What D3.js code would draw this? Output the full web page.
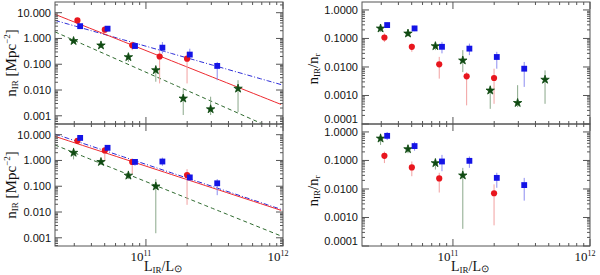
<!DOCTYPE html>
<html>
<head>
<meta charset="utf-8">
<script src="https://cdn.jsdelivr.net/npm/d3@7"></script>
<style>
  body { margin: 0; background: #fff; }
  svg { display: block; }
  .tick-label { font-family: "Liberation Sans", Arial, sans-serif; font-size: 11px; fill: #111; }
  .title { font-family: "Liberation Serif", "Times New Roman", serif; font-size: 15px; fill: #111; }
</style>
</head>
<body>
<div id="chart"></div>
<script>
// luminosity bins (log10 L_IR/L_sun) and small horizontal offsets per sample
const binLogL = [10.5, 10.7, 10.9, 11.1, 11.3, 11.5, 11.7];
const offRed = 0.0, offBlue = 0.02, offGreen = -0.028;

// top-left: n_IR [Mpc^-2]
const tlRed      = [5.0, 2.2, 0.54, 0.20, 0.165, null, null];
const tlRedLo    = [4.3, 1.54, 0.35, 0.018, 0.018, null, null];
const tlRedHi    = [5.8, 2.8, 0.73, 0.35, 0.30, null, null];
const tlBlue     = [3.0, 2.4, 0.51, 0.44, 0.237, 0.086, null];
const tlBlueLo   = [2.5, 2.0, 0.40, 0.26, 0.143, 0.024, null];
const tlBlueHi   = [3.6, 2.9, 0.65, 0.73, 0.40, 0.123, null];
const tlGreen    = [0.80, 0.54, 0.19, 0.059, 0.0047, 0.0018, 0.0114];
const tlGreenLo  = [0.65, 0.45, 0.123, 0.021, 0.00107, 0.00107, 0.0014];
const tlGreenHi  = [0.95, 0.65, 0.26, 0.091, 0.0114, 0.0055, 0.024];

// bottom-left: n_IR [Mpc^-2]
const blRed      = [5.8, 2.45, 0.88, null, 0.27, null, null];
const blRedLo    = [4.3, 0.96, 0.30, null, 0.019, null, null];
const blRedHi    = [7.0, 2.7, 1.1, null, 0.46, null, null];
const blBlue     = [7.5, 3.1, 0.88, 0.91, 0.22, 0.13, null];
const blBlueLo   = [6.5, 2.6, 0.62, 0.62, 0.167, 0.045, null];
const blBlueHi   = [8.5, 3.6, 1.1, 1.29, 0.30, 0.19, null];
const blGreen    = [2.0, 0.88, 0.26, 0.099, null, null, null];
const blGreenLo  = [1.1, 0.68, 0.19, 0.0015, null, null, null];
const blGreenHi  = [3.1, 1.1, 0.40, 0.19, null, null, null];

// top-right: n_IR / n_r
const trRed      = [0.108, 0.051, 0.0124, 0.0047, 0.0041, null, null];
const trRedLo    = [0.075, 0.034, 0.0039, 0.00045, 0.00051, null, null];
const trRedHi    = [0.15, 0.066, 0.0226, 0.0066, 0.0087, null, null];
const trBlue     = [0.295, 0.225, 0.051, 0.044, 0.0224, 0.0087, null];
const trBlueLo   = [0.24, 0.18, 0.030, 0.026, 0.0087, 0.0020, null];
const trBlueHi   = [0.36, 0.28, 0.076, 0.066, 0.034, 0.015, null];
const trGreen    = [0.225, 0.15, 0.054, 0.017, 0.0015, 0.00055, 0.0036];
const trGreenLo  = [0.17, 0.115, 0.039, 0.0066, 0.00034, 0.00039, 0.00051];
const trGreenHi  = [0.30, 0.20, 0.076, 0.039, 0.0023, 0.0023, 0.0076];

// bottom-right: n_IR / n_r
const brRed      = [0.145, 0.057, 0.0234, null, 0.0071, null, null];
const brRedLo    = [0.081, 0.028, 0.0075, null, 0.00053, null, null];
const brRedHi    = [0.204, 0.092, 0.037, null, 0.0145, null, null];
const brBlue     = [0.73, 0.32, 0.092, 0.097, 0.0245, 0.0137, null];
const brBlueLo   = [0.52, 0.22, 0.042, 0.055, 0.011, 0.0039, null];
const brBlueHi   = [1.0, 0.45, 0.157, 0.138, 0.037, 0.0245, null];
const brGreen    = [0.59, 0.25, 0.081, 0.030, null, null, null];
const brGreenLo  = [0.35, 0.18, 0.048, 0.0004, null, null, null];
const brGreenHi  = [0.88, 0.35, 0.12, 0.055, null, null, null];

// power-law fits on the left panels: log n = a + b (log L - 11)
const tlFits = { red: [-0.47, -2.12], blue: [-0.30, -1.51], green: [-1.31, -2.36] };
const blFits = { red: [-0.22, -1.74], blue: [-0.15, -1.77], green: [-0.82, -2.14] };

const leftTicks  = [10, 1, 0.1, 0.01, 0.001];
const leftLabels = ["10.000", "1.000", "0.100", "0.010", "0.001"];
const rightTicks  = [1, 0.1, 0.01, 0.001, 0.0001];
const rightLabels = ["1.0000", "0.1000", "0.0100", "0.0010", "0.0001"];
const xTicks = [1e11, 1e12];
const xLabels = ["11", "12"];

const width = 600, height = 275;
const col = {
  red: "#e8161e", blue: "#1414e6", green: "#0f4a12",
  redErr: "#f2a0a0", blueErr: "#8c8cf0", greenErr: "#8aa88a",
  redLine: "#ee2a30", blueLine: "#2d2dd8", greenLine: "#2e6a2e"
};

const svg = d3.select("#chart").append("svg")
  .attr("width", width).attr("height", height);

const xDomain = [2.17e10, 1e12];
const panels = [
  { x0: 55, x1: 283, y0: 2, y1: 124, ydom: [4.8e-4, 26], ticks: leftTicks, labels: leftLabels, showX: false,
    red: [tlRed, tlRedLo, tlRedHi], blue: [tlBlue, tlBlueLo, tlBlueHi], green: [tlGreen, tlGreenLo, tlGreenHi], fits: tlFits },
  { x0: 55, x1: 283, y0: 124, y1: 246, ydom: [4.8e-4, 26], ticks: leftTicks, labels: leftLabels, showX: true,
    red: [blRed, blRedLo, blRedHi], blue: [blBlue, blBlueLo, blBlueHi], green: [blGreen, blGreenLo, blGreenHi], fits: blFits },
  { x0: 362, x1: 590, y0: 2, y1: 124, ydom: [1e-4, 1.9], ticks: rightTicks, labels: rightLabels, showX: false,
    red: [trRed, trRedLo, trRedHi], blue: [trBlue, trBlueLo, trBlueHi], green: [trGreen, trGreenLo, trGreenHi], fits: null },
  { x0: 362, x1: 590, y0: 124, y1: 246, ydom: [1e-4, 1.9], ticks: rightTicks, labels: rightLabels, showX: true,
    red: [brRed, brRedLo, brRedHi], blue: [brBlue, brBlueLo, brBlueHi], green: [brGreen, brGreenLo, brGreenHi], fits: null }
];

panels.forEach(function(p, i) { drawPanel(p, i); });

function drawPanel(p, idx) {
  let x = d3.scaleLog().domain(xDomain).range([p.x0, p.x1]);
  let y = d3.scaleLog().domain(p.ydom).range([p.y1, p.y0]);

  let g = svg.append("g");
  let clipId = "clip" + idx;
  svg.append("clipPath").attr("id", clipId)
    .append("rect").attr("x", p.x0).attr("y", p.y0)
    .attr("width", p.x1 - p.x0).attr("height", p.y1 - p.y0);

  // fit lines
  if (p.fits) {
    let lg = g.append("g").attr("clip-path", `url(#${clipId})`);
    let styles = {
      red: { c: col.redLine, dash: null },
      blue: { c: col.blueLine, dash: "5,2,1,2" },
      green: { c: col.greenLine, dash: "4,3" }
    };
    ["green", "blue", "red"].forEach(function(k) {
      let f = p.fits[k];
      let lx = d3.range(Math.log10(xDomain[0]), 12.001, 0.05);
      let pts = lx.map(function(l) { return [Math.pow(10, l), Math.pow(10, f[0] + f[1] * (l - 11))]; });
      lg.append("path")
        .datum(pts)
        .attr("fill", "none")
        .attr("stroke", styles[k].c)
        .attr("stroke-width", 1)
        .attr("stroke-dasharray", styles[k].dash)
        .attr("d", d3.line().x(function(d) { return x(d[0]); }).y(function(d) { return y(d[1]); }));
    });
  }

  // error bars then markers
  let series = [
    { key: "green", data: p.green, off: offGreen, err: col.greenErr, fill: col.green, sym: d3.symbolStar, size: 22 },
    { key: "red", data: p.red, off: offRed, err: col.redErr, fill: col.red, sym: d3.symbolCircle, size: 30 },
    { key: "blue", data: p.blue, off: offBlue, err: col.blueErr, fill: col.blue, sym: d3.symbolSquare, size: 34 }
  ];
  let mg = g.append("g").attr("clip-path", `url(#${clipId})`);
  series.forEach(function(s) {
    let rows = binLogL.map(function(l, i) {
      return { L: Math.pow(10, l + s.off), v: s.data[0][i], lo: s.data[1][i], hi: s.data[2][i] };
    }).filter(function(d) { return d.v !== null; });

    mg.selectAll("line.err-" + s.key).data(rows).enter()
      .append("line")
      .attr("class", "err-" + s.key)
      .attr("x1", function(d) { return x(d.L); })
      .attr("x2", function(d) { return x(d.L); })
      .attr("y1", function(d) { return y(d.lo); })
      .attr("y2", function(d) { return y(d.hi); })
      .attr("stroke", s.err)
      .attr("stroke-width", 1);
  });
  series.forEach(function(s) {
    let rows = binLogL.map(function(l, i) {
      return { L: Math.pow(10, l + s.off), v: s.data[0][i] };
    }).filter(function(d) { return d.v !== null; });
    mg.selectAll("path.pt-" + s.key).data(rows).enter()
      .append("path")
      .attr("class", "pt-" + s.key)
      .attr("transform", function(d) { return `translate(${x(d.L)},${y(d.v)})`; })
      .attr("d", d3.symbol().type(s.sym).size(s.size))
      .attr("fill", s.fill)
      .attr("stroke", s.key === "green" ? s.fill : "none")
      .attr("stroke-width", 0.8);
  });

  // frame
  let frameColor = "#555";
  g.append("rect")
    .attr("x", p.x0).attr("y", p.y0)
    .attr("width", p.x1 - p.x0).attr("height", p.y1 - p.y0)
    .attr("fill", "none").attr("stroke", frameColor).attr("stroke-width", 1);

  // x ticks (inside, top and bottom)
  let xMinor = [];
  [1e10, 1e11].forEach(function(dec) {
    for (let k = 2; k <= 9; k++) {
      let v = dec * k;
      if (v > xDomain[0] && v < xDomain[1]) xMinor.push(v);
    }
  });
  let tg = g.append("g").attr("stroke", frameColor).attr("stroke-width", 1);
  xMinor.forEach(function(v) {
    tg.append("line").attr("x1", x(v)).attr("x2", x(v)).attr("y1", p.y1).attr("y2", p.y1 - 3);
    tg.append("line").attr("x1", x(v)).attr("x2", x(v)).attr("y1", p.y0).attr("y2", p.y0 + 3);
  });
  xTicks.forEach(function(v) {
    tg.append("line").attr("x1", x(v)).attr("x2", x(v)).attr("y1", p.y1).attr("y2", p.y1 - 7);
    tg.append("line").attr("x1", x(v)).attr("x2", x(v)).attr("y1", p.y0).attr("y2", p.y0 + 7);
  });

  // y ticks (inside, left and right)
  let yMinor = [];
  [1e-5, 1e-4, 1e-3, 1e-2, 1e-1, 1, 10].forEach(function(dec) {
    for (let k = 2; k <= 9; k++) {
      let v = dec * k;
      if (v > p.ydom[0] && v < p.ydom[1]) yMinor.push(v);
    }
  });
  yMinor.forEach(function(v) {
    tg.append("line").attr("x1", p.x0).attr("x2", p.x0 + 3).attr("y1", y(v)).attr("y2", y(v));
    tg.append("line").attr("x1", p.x1).attr("x2", p.x1 - 3).attr("y1", y(v)).attr("y2", y(v));
  });
  p.ticks.forEach(function(v) {
    tg.append("line").attr("x1", p.x0).attr("x2", p.x0 + 7).attr("y1", y(v)).attr("y2", y(v));
    tg.append("line").attr("x1", p.x1).attr("x2", p.x1 - 7).attr("y1", y(v)).attr("y2", y(v));
  });

  // y tick labels (the bottom one kept inside the panel height)
  g.selectAll("text.ylab").data(p.ticks).enter()
    .append("text")
    .attr("class", "tick-label")
    .attr("x", p.x0 - 4)
    .attr("y", function(d) { return Math.min(y(d) + 4, p.y1 - 1); })
    .style("text-anchor", "end")
    .text(function(d, i) { return p.labels[i]; });

  // x tick labels + title
  if (p.showX) {
    xTicks.forEach(function(v, i) {
      let t = g.append("text").attr("class", "title")
        .attr("x", x(v) - 5).attr("y", p.y1 + 15)
        .style("text-anchor", "middle")
        .style("font-size", "13px");
      t.append("tspan").text("10");
      t.append("tspan").attr("dy", -5).style("font-size", "8px").text(xLabels[i]);
    });
    let xt = g.append("text").attr("class", "title")
      .attr("x", (p.x0 + p.x1) / 2 - 6).attr("y", p.y1 + 25)
      .style("text-anchor", "middle")
      .style("font-size", "14px");
    xt.append("tspan").text("L");
    xt.append("tspan").attr("dy", 2).style("font-size", "9px").text("IR");
    xt.append("tspan").attr("dy", -2).text("/L");
    xt.append("tspan").attr("dy", 1).style("font-size", "10px").text("\u2299");
  }

  // y title
  let tx = p.fits ? p.x0 - 39 : p.x0 - 44;
  let ty = p.fits ? (p.y0 + p.y1) / 2 : (p.y0 + p.y1) / 2 + 6;
  let yt = g.append("text").attr("class", "title")
    .attr("transform", `translate(${tx},${ty})rotate(-90)`)
    .style("text-anchor", "middle");
  yt.append("tspan").text("n");
  yt.append("tspan").attr("dy", 2).style("font-size", "9px").text("IR");
  if (p.fits) {
    yt.append("tspan").attr("dy", -2).text(" [Mpc");
    yt.append("tspan").attr("dy", -6).style("font-size", "9px").text("\u22122");
    yt.append("tspan").attr("dy", 6).text("]");
  } else {
    yt.append("tspan").attr("dy", -2).text("/n");
    yt.append("tspan").attr("dy", 2).style("font-size", "9px").text("r");
  }
}
</script>
</body>
</html>
